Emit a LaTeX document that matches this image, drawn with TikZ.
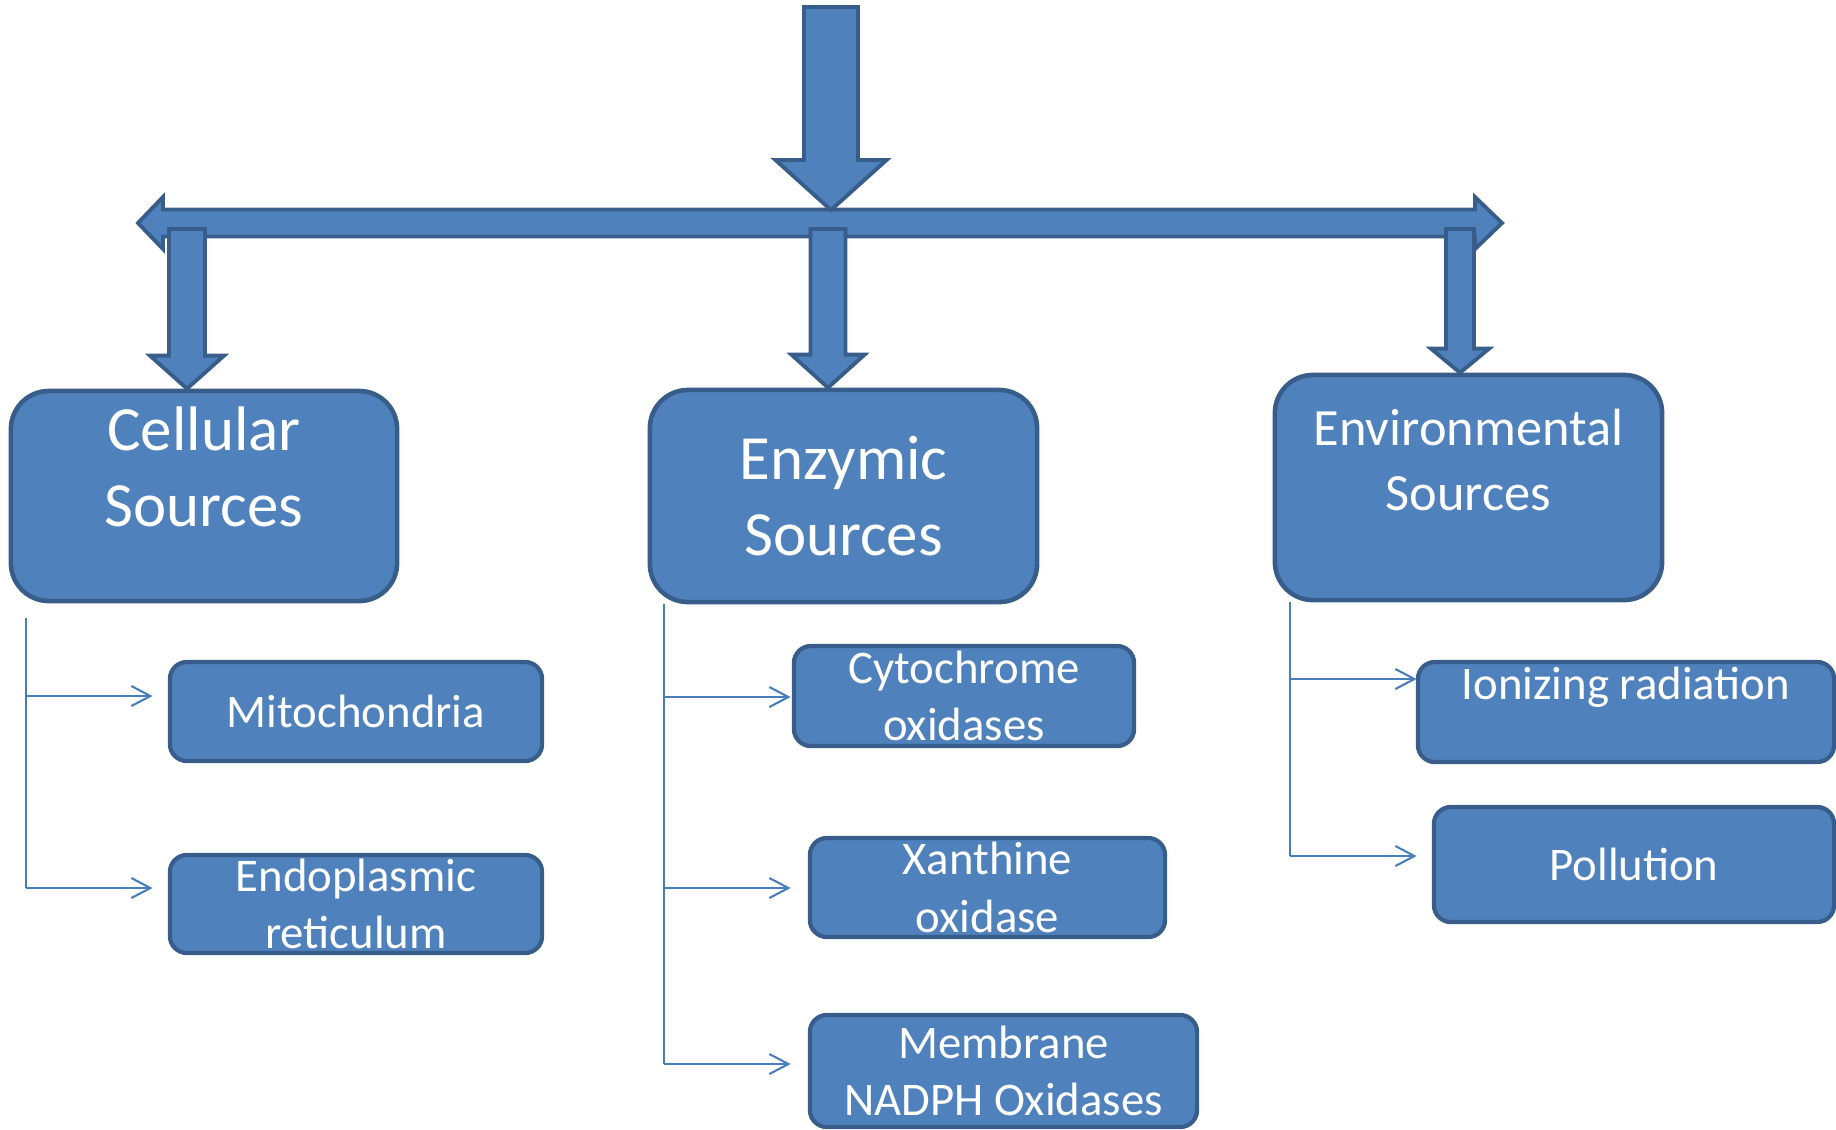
\documentclass[tikz,border=0pt]{standalone}
\usepackage{fontspec}
\setmainfont{Carlito}
\usepackage{tikz}
\usetikzlibrary{arrows.meta,calc}

\definecolor{boxblue}{HTML}{4F81BD}
\definecolor{boxedge}{HTML}{385D8A}
\definecolor{linkblue}{HTML}{4A7EBB}

\begin{document}
\begin{tikzpicture}[
  x=0.01cm,
  y=-0.01cm,
  blockarrow/.style={draw=boxedge, fill=boxblue, line width=1.1pt, line join=miter},
  sourcebox/.style={draw=boxedge, fill=boxblue, line width=1.3pt, rounded corners=0.38cm,
    text=white, align=center, inner sep=0pt, font=\fontsize{17.9}{21.6}\selectfont},
  itembox/.style={draw=boxedge, fill=boxblue, line width=1.2pt, rounded corners=0.17cm,
    text=white, align=center, inner sep=0pt, font=\fontsize{13.3}{16.4}\selectfont},
  branch/.style={draw=linkblue, line width=0.6pt},
  feed/.style={branch, -{Straight Barb[length=5.4pt, width=5.7pt]}}
]
  \useasboundingbox (0,0) rectangle (1836,1129);

  % the three source boxes
  \node[sourcebox, minimum width=3.86cm, minimum height=2.10cm] (cellular) at (204,496) {Cellular\\Sources\\[-5pt]\mbox{}};
  \node[sourcebox, minimum width=3.87cm, minimum height=2.12cm] (enzymic) at (843.5,496) {Enzymic\\Sources};
  \node[sourcebox, minimum width=3.87cm, minimum height=2.25cm, font=\fontsize{14.9}{18.5}\selectfont]
    (environ) at (1468.5,487.5) {Environmental\\Sources\\[-3pt]\mbox{}};

  % the items below them
  \node[itembox, minimum width=3.72cm, minimum height=0.99cm] (mito) at (356,711.5) {Mitochondria};
  \node[itembox, minimum width=3.72cm, minimum height=0.98cm] (endo) at (356,904) {Endoplasmic\\reticulum};
  \node[itembox, minimum width=3.40cm, minimum height=1.00cm] (cyto) at (964,696) {Cytochrome\\oxidases};
  \node[itembox, minimum width=3.55cm, minimum height=0.99cm] (xanth) at (987.5,887.5) {Xanthine\\oxidase};
  \node[itembox, minimum width=3.87cm, minimum height=1.12cm] (nadph) at (1003.5,1071) {Membrane\\NADPH Oxidases};
  \node[itembox, minimum width=4.16cm, minimum height=1.00cm] (ionizing) at (1626,712) {Ionizing radiation\\\mbox{}};
  \node[itembox, minimum width=4.00cm, minimum height=1.15cm] (pollution) at (1634,864.5) {Pollution};

  % block arrows
  \coordinate (hub) at (831,223);
  \draw[blockarrow] (138,223) -- ++(25,-26) -- ++(0,12.5) -- ++(1312,0) -- ++(0,-12.5) -- ++(27,26)
    -- ++(-27,26) -- ++(0,-12.5) -- ++(-1312,0) -- ++(0,12.5) -- cycle;
  \foreach \tgt/\dx/\sw/\hw/\hl in {cellular/-17/18/37/33, enzymic/-15.5/17.5/36.5/33, environ/-8.5/14/29/24} {
    \coordinate (tip) at ($(\tgt.north)+(\dx,0)$);
    \draw[blockarrow] (tip) -- ++(-\hw,-\hl) -- ++({\hw-\sw},0) -- ($(tip |- hub)+(-\sw,6)$)
      -- ++({2*\sw},0) -- ($(tip)+(\sw,-\hl)$) -- ++({\hw-\sw},0) -- cycle;
  }
  \draw[blockarrow] ($(hub)+(0,-13)$) -- ++(55.5,-50) -- ++(-28.5,0) -- ++(0,-153) -- ++(-54,0)
    -- ++(0,153) -- ++(-28.5,0) -- cycle;

  % thin branch lines
  \coordinate (lstem) at ($(cellular.south west)+(17,15)$);
  \coordinate (mstem) at ($(enzymic.south west)+(16,0)$);
  \coordinate (rstem) at ($(environ.south west)+(17,0)$);
  \draw[branch] (lstem) -- ($(lstem |- endo.west)+(0,-16)$);
  \draw[branch] (mstem) -- ($(mstem |- nadph.west)+(0,-7)$);
  \draw[branch] (rstem) -- ($(rstem |- pollution.west)+(0,-8.5)$);
  \foreach \st/\b/\dy in {lstem/mito/-15.5, lstem/endo/-16, mstem/cyto/1, mstem/xanth/0.5,
      mstem/nadph/-7, rstem/ionizing/-33, rstem/pollution/-8.5} {
    \draw[feed] ($(\st |- \b.west)+(0,\dy)$) -- ++(127,0);
  }
\end{tikzpicture}
\end{document}
